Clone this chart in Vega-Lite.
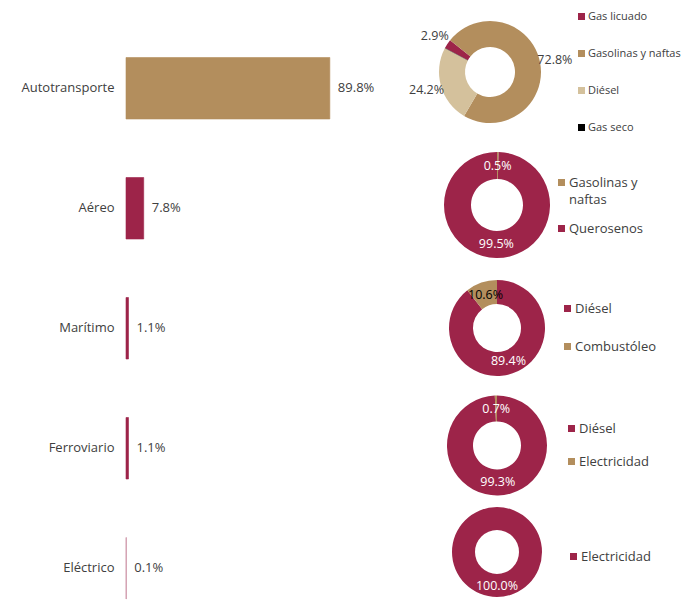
{
  "$schema": "https://vega.github.io/schema/vega-lite/v6.json",
  "padding": {"left": 20, "top": 0, "right": 0, "bottom": 0},
  "background": "white",
  "config": {"view": {"stroke": null}, "font": "Open Sans", "text": {"font": "Open Sans"}},
  "datasets": {
    "modos": [
      {"modo": "Autotransporte", "share": 0.898},
      {"modo": "Aéreo", "share": 0.078},
      {"modo": "Marítimo", "share": 0.011},
      {"modo": "Ferroviario", "share": 0.011},
      {"modo": "Eléctrico", "share": 0.001}
    ],
    "auto": [
      {"fuente": "Gas licuado", "share": 0.029, "orden": 1},
      {"fuente": "Gasolinas y naftas", "share": 0.728, "orden": 2},
      {"fuente": "Diésel", "share": 0.242, "orden": 3},
      {"fuente": "Gas seco", "share": 0.001, "orden": 4}
    ],
    "aereo": [
      {"fuente": "Gasolinas y naftas", "share": 0.005, "orden": 1},
      {"fuente": "Querosenos", "share": 0.995, "orden": 2}
    ],
    "maritimo": [
      {"fuente": "Diésel", "share": 0.894, "orden": 1},
      {"fuente": "Combustóleo", "share": 0.106, "orden": 2}
    ],
    "ferro": [
      {"fuente": "Diésel", "share": 0.993, "orden": 1},
      {"fuente": "Electricidad", "share": 0.007, "orden": 2}
    ],
    "electrico": [
      {"fuente": "Electricidad", "share": 1.0, "orden": 1}
    ]
  },
  "spacing": 88,
  "bounds": "flush",
  "resolve": {"scale": {"color": "independent", "theta": "independent", "stroke": "independent"}, "legend": {"color": "independent"}},
  "hconcat": [
    {
      "data": {"name": "modos"},
      "width": 227,
      "height": 599,
      "encoding": {
        "y": {"field": "modo", "type": "nominal", "sort": null,
          "scale": {"paddingInner": 0.4875, "paddingOuter": 0.2396, "align": 1},
          "axis": {"title": null, "domain": false, "ticks": false, "labelPadding": 12, "labelFontSize": 13, "labelColor": "#404040", "labelFont": "Open Sans"}},
        "x": {"field": "share", "type": "quantitative", "scale": {"domain": [0, 1]}, "axis": null}
      },
      "layer": [
        {"mark": {"type": "bar", "strokeWidth": 0.6},
         "encoding": {
           "color": {"field": "modo", "type": "nominal", "legend": null,
             "scale": {"domain": ["Autotransporte", "Aéreo", "Marítimo", "Ferroviario", "Eléctrico"], "range": ["#B38E5D", "#9D2449", "#9D2449", "#9D2449", "#9D2449"]}},
           "stroke": {"field": "modo", "type": "nominal", "legend": null,
             "scale": {"domain": ["Autotransporte", "Aéreo", "Marítimo", "Ferroviario", "Eléctrico"], "range": ["#B38E5D", "#9D2449", "#9D2449", "#9D2449", "#C98AA0"]}}}},
        {"mark": {"type": "text", "align": "left", "baseline": "middle", "dx": 8, "fontSize": 13, "color": "#404040"},
         "encoding": {"text": {"field": "share", "type": "quantitative", "format": ".1%"}}}
      ]
    },
    {
      "spacing": 0,
      "bounds": "flush",
      "resolve": {"scale": {"color": "independent", "theta": "independent"}, "legend": {"color": "independent"}},
      "vconcat": [
        {
          "data": {"name": "auto"},
          "width": 98, "height": 144,
          "encoding": {
            "theta": {"field": "share", "type": "quantitative", "stack": true, "scale": {"range": [-1.082, 5.2012]}},
            "order": {"field": "orden", "type": "quantitative"},
            "color": {"field": "fuente", "type": "nominal",
              "scale": {"domain": ["Gas licuado", "Gasolinas y naftas", "Diésel", "Gas seco"], "range": ["#9D2449", "#B38E5D", "#D4C19C", "#000000"]},
              "legend": {"title": null, "orient": "none", "legendX": 135, "legendY": 11, "symbolType": "square", "symbolSize": 49, "symbolStrokeWidth": 0, "labelFontSize": 11, "labelColor": "#404040", "labelFont": "Open Sans", "rowPadding": 25, "labelOffset": 1, "padding": 0}}
          },
          "layer": [
            {"mark": {"type": "arc", "radius": 51, "radius2": 25}},
            {"transform": [{"filter": "datum.share >= 0.005"}],
             "mark": {"type": "text", "radius": 66, "fontSize": 12.5, "baseline": "middle"},
             "encoding": {"text": {"field": "share", "type": "quantitative", "format": ".1%"}, "color": {"value": "#404040"}}}
          ]
        },
        {
          "data": {"name": "aereo"},
          "width": 112, "height": 122,
          "encoding": {
            "theta": {"field": "share", "type": "quantitative", "stack": true},
            "order": {"field": "orden", "type": "quantitative"},
            "color": {"field": "fuente", "type": "nominal",
              "scale": {"domain": ["Gasolinas y naftas", "Querosenos"], "range": ["#B38E5D", "#9D2449"]},
              "legend": {"title": null, "orient": "none", "legendX": 114, "legendY": 32, "symbolType": "square", "symbolSize": 49, "symbolStrokeWidth": 0, "labelFontSize": 13, "labelColor": "#404040", "labelFont": "Open Sans", "rowPadding": 15, "labelOffset": 1, "padding": 0,
                "labelExpr": "datum.label == 'Gasolinas y naftas' ? ['Gasolinas y', 'naftas'] : datum.label",
                "encode": {"labels": {"update": {"lineHeight": {"value": 17}}}}}}
          },
          "layer": [
            {"mark": {"type": "arc", "radius": 53, "radius2": 26}},
            {"mark": {"type": "text", "radius": 39, "fontSize": 12.5, "baseline": "middle"},
             "encoding": {"text": {"field": "share", "type": "quantitative", "format": ".1%"}, "color": {"value": "#FFFFFF"}}}
          ]
        },
        {
          "data": {"name": "maritimo"},
          "width": 112, "height": 124,
          "encoding": {
            "theta": {"field": "share", "type": "quantitative", "stack": true},
            "order": {"field": "orden", "type": "quantitative"},
            "color": {"field": "fuente", "type": "nominal",
              "scale": {"domain": ["Diésel", "Combustóleo"], "range": ["#9D2449", "#B38E5D"]},
              "legend": {"title": null, "orient": "none", "legendX": 120, "legendY": 36, "symbolType": "square", "symbolSize": 49, "symbolStrokeWidth": 0, "labelFontSize": 13, "labelColor": "#404040", "labelFont": "Open Sans", "rowPadding": 24, "labelOffset": 1, "padding": 0}}
          },
          "layer": [
            {"mark": {"type": "arc", "radius": 48, "radius2": 24}},
            {"mark": {"type": "text", "radius": 35, "fontSize": 12.5, "baseline": "middle"},
             "encoding": {"text": {"field": "share", "type": "quantitative", "format": ".1%"},
               "color": {"condition": {"test": "datum.fuente == 'Combustóleo'", "value": "#000000"}, "value": "#FFFFFF"}}}
          ]
        },
        {
          "data": {"name": "ferro"},
          "width": 112, "height": 111,
          "encoding": {
            "theta": {"field": "share", "type": "quantitative", "stack": true},
            "order": {"field": "orden", "type": "quantitative"},
            "color": {"field": "fuente", "type": "nominal",
              "scale": {"domain": ["Diésel", "Electricidad"], "range": ["#9D2449", "#B38E5D"]},
              "legend": {"title": null, "orient": "none", "legendX": 124, "legendY": 32, "symbolType": "square", "symbolSize": 49, "symbolStrokeWidth": 0, "labelFontSize": 13, "labelColor": "#404040", "labelFont": "Open Sans", "rowPadding": 19, "labelOffset": 1, "padding": 0}}
          },
          "layer": [
            {"mark": {"type": "arc", "radius": 50, "radius2": 24}},
            {"mark": {"type": "text", "radius": 37, "fontSize": 12.5, "baseline": "middle"},
             "encoding": {"text": {"field": "share", "type": "quantitative", "format": ".1%"}, "color": {"value": "#FFFFFF"}}}
          ]
        },
        {
          "data": {"name": "electrico"},
          "width": 112, "height": 102,
          "encoding": {
            "theta": {"field": "share", "type": "quantitative", "stack": true},
            "order": {"field": "orden", "type": "quantitative"},
            "color": {"field": "fuente", "type": "nominal",
              "scale": {"domain": ["Electricidad"], "range": ["#9D2449"]},
              "legend": {"title": null, "orient": "none", "legendX": 126, "legendY": 49, "symbolType": "square", "symbolSize": 49, "symbolStrokeWidth": 0, "labelFontSize": 13, "labelColor": "#404040", "labelFont": "Open Sans", "labelOffset": 1, "padding": 0}}
          },
          "layer": [
            {"mark": {"type": "arc", "radius": 45, "radius2": 22}},
            {"mark": {"type": "text", "radius": 34, "fontSize": 12.5, "baseline": "middle"},
             "encoding": {"text": {"field": "share", "type": "quantitative", "format": ".1%"}, "color": {"value": "#FFFFFF"}}}
          ]
        }
      ]
    }
  ]
}
